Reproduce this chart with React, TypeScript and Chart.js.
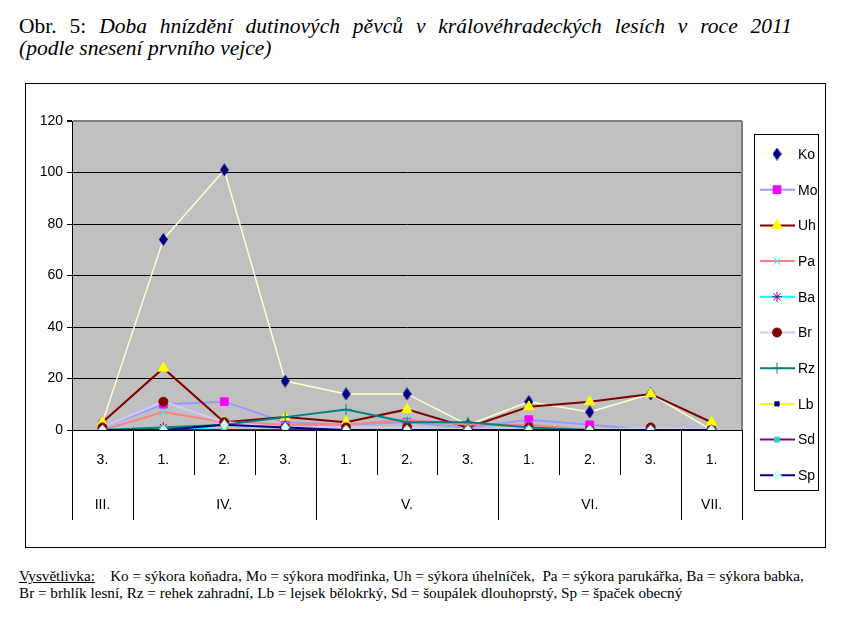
import React, { useEffect, useRef } from "react";
import { Chart, registerables } from "chart.js";
import { drawPoint } from "chart.js/helpers";

Chart.register(...registerables);

const categories = ["3.", "1.", "2.", "3.", "1.", "2.", "3.", "1.", "2.", "3.", "1."];
const groupLabels = ["III.", "IV.", "V.", "VI.", "VII."];
const groupSpans = [1, 3, 3, 3, 1];

const Ko = [3, 74, 101, 19, 14, 14, 2, 11, 7, 14, 0];
const Mo = [1, 10, 11, 3, 2, 3, 1, 4, 2, 0, 0];
const Uh = [3, 24, 3, 5, 3, 8, 1, 9, 11, 14, 3];
const Pa = [0, 7, 3, 2, 2, 4, 2, 2, 0, 0, 0];
const Ba = [0, 1, 0, 0, 0, 0, 0, 0, 0, 0, 0];
const Br = [1, 11, 3, 1, 1, 1, 0, 1, 0, 1, 0];
const Rz = [0, 1, 2, 5, 8, 3, 3, 1, 0, 0, 0];
const Lb = [0, 0, 0, 0, 0, 0, 0, 0, 0, 0, 0];
const Sd = [0, 0, 0, 0, 0, 0, 0, 0, 0, 0, 0];
const Sp = [0, 0, 2, 1, 0, 0, 0, 0, 0, 0, 0];

const seriesNames = ["Ko", "Mo", "Uh", "Pa", "Ba", "Br", "Rz", "Lb", "Sd", "Sp"];
const seriesValues = [Ko, Mo, Uh, Pa, Ba, Br, Rz, Lb, Sd, Sp];

function makeDiamond(w: number, h: number, fill: string): HTMLCanvasElement {
  const c = document.createElement("canvas");
  c.width = w;
  c.height = h;
  const g = c.getContext("2d")!;
  g.fillStyle = fill;
  g.beginPath();
  g.moveTo(w / 2, 0);
  g.lineTo(w, h / 2);
  g.lineTo(w / 2, h);
  g.lineTo(0, h / 2);
  g.closePath();
  g.fill();
  return c;
}

export default function App() {
  const ref = useRef<HTMLCanvasElement>(null);

  useEffect(() => {
    document.body.style.margin = "0";
    const koDiamond = makeDiamond(9, 13, "#000080");
    const spDiamond = makeDiamond(9, 11, "#CCFFFF");

    const styles: any[] = [
      { line: "#FFFFCC", width: 1.5, point: koDiamond, fill: "#000080", radius: 6 },
      { line: "#9999FF", width: 2, point: "rect", fill: "#FF00FF", radius: 5.5 },
      { line: "#800000", width: 2, point: "triangle", fill: "#FFFF00", radius: 6 },
      { line: "#FF8080", width: 2, point: "crossRot", fill: "#00FFFF", radius: 5 },
      { line: "#00FFFF", width: 2, point: "star", fill: "#800080", radius: 5 },
      { line: "#CCCCFF", width: 2, point: "circle", fill: "#800000", radius: 4.5 },
      { line: "#008080", width: 2, point: "cross", fill: "#008080", radius: 5.5 },
      { line: "#FFFF00", width: 2, point: "rect", fill: "#000080", radius: 3 },
      { line: "#800080", width: 2, point: "rect", fill: "#33CCCC", radius: 3.5 },
      { line: "#000080", width: 2, point: spDiamond, fill: "#CCFFFF", radius: 5 },
    ];

    const datasets = seriesNames.map((name, i) => ({
      label: name,
      data: seriesValues[i],
      borderColor: styles[i].line,
      borderWidth: styles[i].width,
      pointStyle: styles[i].point,
      pointBackgroundColor: styles[i].fill,
      pointBorderColor: styles[i].fill,
      pointBorderWidth: 1,
      pointRadius: styles[i].radius,
      tension: 0,
      fill: false,
      order: 9 - i,
    }));

    const bgPlugin = {
      id: "plotBg",
      beforeDraw(chart: any) {
        const { ctx, chartArea: a } = chart;
        ctx.save();
        ctx.fillStyle = "#C0C0C0";
        ctx.fillRect(a.left, a.top, a.right - a.left, a.bottom - a.top);
        ctx.restore();
      },
    };

    const axisPlugin = {
      id: "groupAxis",
      afterDraw(chart: any) {
        const { ctx, chartArea: a } = chart;
        const x = chart.scales.x;
        const step = x.getPixelForValue(1) - x.getPixelForValue(0);
        const edge = (i: number) => x.getPixelForValue(0) - step / 2 + i * step;
        ctx.save();
        ctx.strokeStyle = "#808080";
        ctx.lineWidth = 2;
        ctx.beginPath();
        ctx.moveTo(a.right, a.top);
        ctx.lineTo(a.right, a.bottom);
        ctx.stroke();
        ctx.strokeStyle = "#000";
        ctx.lineWidth = 1;
        ctx.beginPath();
        ctx.moveTo(a.left, Math.round(a.bottom) + 0.5);
        ctx.lineTo(a.right, Math.round(a.bottom) + 0.5);
        ctx.stroke();
        const groupEdges = new Set<number>();
        let acc = 0;
        groupEdges.add(0);
        groupSpans.forEach((s) => {
          acc += s;
          groupEdges.add(acc);
        });
        for (let i = 0; i <= categories.length; i++) {
          const px = Math.round(edge(i)) + 0.5;
          const len = groupEdges.has(i) ? 90 : 45;
          ctx.beginPath();
          ctx.moveTo(px, a.bottom);
          ctx.lineTo(px, a.bottom + len);
          ctx.stroke();
        }
        ctx.fillStyle = "#000";
        ctx.font = "14px 'Liberation Sans', Arial, sans-serif";
        ctx.textAlign = "center";
        ctx.textBaseline = "middle";
        categories.forEach((c, i) => {
          ctx.fillText(c, x.getPixelForValue(i), a.bottom + 30);
        });
        let start = 0;
        groupLabels.forEach((g, gi) => {
          const s = groupSpans[gi];
          const cx = (edge(start) + edge(start + s)) / 2;
          ctx.fillText(g, cx, a.bottom + 75);
          start += s;
        });
        ctx.restore();
      },
    };

    const legendPlugin = {
      id: "customLegend",
      afterDraw(chart: any) {
        const ctx = chart.ctx;
        const x0 = 728, y0 = 50, x1 = 792, y1 = 406;
        ctx.save();
        ctx.strokeStyle = "#000";
        ctx.lineWidth = 1;
        ctx.strokeRect(x0 + 0.5, y0 + 0.5, x1 - x0, y1 - y0);
        chart.data.datasets.forEach((ds: any, i: number) => {
          const y = 70 + i * 35.7;
          ctx.strokeStyle = ds.borderColor;
          ctx.lineWidth = ds.borderWidth;
          ctx.beginPath();
          ctx.moveTo(734, y);
          ctx.lineTo(769, y);
          ctx.stroke();
          ctx.fillStyle = ds.pointBackgroundColor;
          ctx.strokeStyle = ds.pointBorderColor;
          ctx.lineWidth = 1;
          drawPoint(ctx, { pointStyle: ds.pointStyle, radius: ds.pointRadius, borderWidth: 1, rotation: 0 } as any, 751, y);
          ctx.fillStyle = "#000";
          ctx.font = "14px 'Liberation Sans', Arial, sans-serif";
          ctx.textAlign = "left";
          ctx.textBaseline = "middle";
          ctx.fillText(ds.label, 772, y + 1);
        });
        ctx.restore();
      },
    };

    const chart = new Chart(ref.current!, {
      type: "line",
      data: { labels: categories, datasets },
      options: {
        animation: false,
        responsive: true,
        maintainAspectRatio: false,
        layout: { padding: { left: 6, top: 37, right: 83, bottom: 117 } },
        plugins: { legend: { display: false }, tooltip: { enabled: false } },
        scales: {
          x: { type: "category", offset: true, display: false },
          y: {
            min: 0,
            max: 120,
            afterFit: (s: any) => {
              s.width = 40;
            },
            ticks: {
              stepSize: 20,
              color: "#000",
              padding: 4,
              font: { family: "'Liberation Sans', Arial, sans-serif", size: 14 },
            },
            grid: {
              color: (c: any) => (c.tick && c.tick.value === 120 ? "#808080" : "#000"),
              lineWidth: (c: any) => (c.tick && c.tick.value === 120 ? 2 : 1),
              tickColor: "#000",
              tickLength: 5,
            },
            border: { display: true, color: "#000", width: 1 },
          },
        },
      },
      plugins: [bgPlugin, axisPlugin, legendPlugin],
    } as any);
    return () => chart.destroy();
  }, []);

  const serif = "'Liberation Serif', 'Times New Roman', serif";
  return (
    <div style={{ position: "relative", width: 846, height: 618, background: "#fff", fontFamily: serif, color: "#000" }}>
      <div style={{ position: "absolute", left: 19, top: 15, width: 773, fontSize: 21.5, lineHeight: "22px", textAlign: "justify", textAlignLast: "justify" as any, whiteSpace: "nowrap" }}>
        Obr. 5: <i>Doba hnízdění dutinových pěvců v královéhradeckých lesích v roce 2011</i>
      </div>
      <div style={{ position: "absolute", left: 19, top: 37, fontSize: 21.5, lineHeight: "22px", whiteSpace: "nowrap" }}>
        <i>(podle snesení prvního vejce)</i>
      </div>
      <div style={{ position: "absolute", left: 25, top: 83, width: 799, height: 463, border: "1px solid #000" }}>
        <canvas ref={ref} />
      </div>
      <div style={{ position: "absolute", left: 19, top: 567, fontSize: 15.2, lineHeight: "17px", whiteSpace: "pre" }}>
        <span style={{ textDecoration: "underline" }}>Vysvětlivka:</span>
        {"    Ko = sýkora koňadra, Mo = sýkora modřinka, Uh = sýkora úhelníček,  Pa = sýkora parukářka, Ba = sýkora babka,"}
        {"\n"}
        {"Br = brhlík lesní, Rz = rehek zahradní, Lb = lejsek bělokrký, Sd = šoupálek dlouhoprstý, Sp = špaček obecný"}
      </div>
    </div>
  );
}
